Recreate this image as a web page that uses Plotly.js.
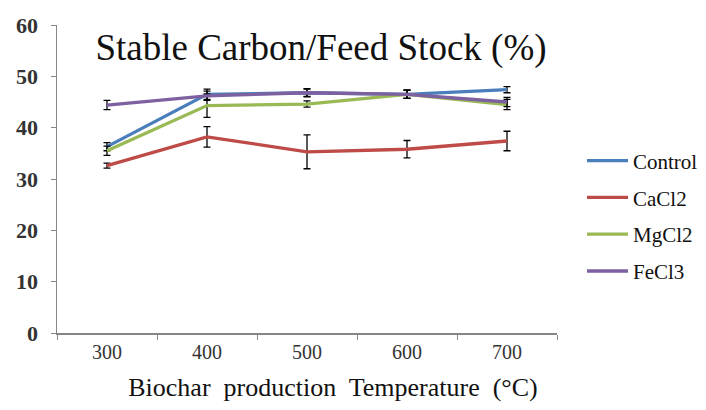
<!DOCTYPE html>
<html><head><meta charset="utf-8">
<script src="https://cdn.plot.ly/plotly-3.0.1.min.js"></script>
<style>html,body{margin:0;padding:0;background:#fff}#chart{width:706px;height:410px}</style>
</head><body><div id="chart"></div>
<script>
const temps = ['300', '400', '500', '600', '700'];
const seriesNames = ['Control', 'CaCl2', 'MgCl2', 'FeCl3'];
const control = [36.3, 46.5, 46.8, 46.5, 47.4];
const controlErr = [0.8, 1.0, 0.8, 0.8, 0.6];
const cacl2 = [32.6, 38.2, 35.3, 35.8, 37.4];
const cacl2Err = [0.5, 2.0, 3.3, 1.7, 1.9];
const mgcl2 = [35.5, 44.3, 44.6, 46.5, 44.5];
const mgcl2Err = [0.9, 2.3, 0.6, 0.8, 1.0];
const fecl3 = [44.4, 46.2, 46.8, 46.5, 45.0];
const fecl3Err = [0.9, 0.9, 0.7, 0.8, 0.9];
const colors = ['#4A7EBB', '#BE4B48', '#98B954', '#7D60A0'];
const values = [control, cacl2, mgcl2, fecl3];
const errs = [controlErr, cacl2Err, mgcl2Err, fecl3Err];

const serif = '"Liberation Serif", "Times New Roman", serif';
const traces = seriesNames.map((n, i) => ({
  type: 'scatter', mode: 'lines', name: n, x: temps, y: values[i],
  legendgroup: 'g' + i,
  line: {color: colors[i], width: 3.3},
  error_y: {type: 'data', array: errs[i], visible: true, color: '#000', thickness: 1.3, width: 3.5}
}));

const layout = {
  width: 706, height: 410,
  margin: {l: 57, r: 149, t: 25, b: 77, autoexpand: false},
  paper_bgcolor: '#fff', plot_bgcolor: '#fff',
  font: {family: serif, color: '#222'},
  title: {text: 'Stable Carbon/Feed Stock (%)', font: {family: serif, size: 37, color: '#111'},
    xref: 'paper', x: (321 - 57) / 500, xanchor: 'center', yref: 'container', y: 1 - 47 / 410, yanchor: 'middle'},
  xaxis: {type: 'category', range: [-0.5, 4.5], tickson: 'boundaries', ticks: 'outside', ticklen: 5,
    tickcolor: '#868686', showline: true, linecolor: '#868686', linewidth: 1.5, showgrid: false, zeroline: false,
    tickfont: {family: serif, size: 20, color: '#333'},
    title: {text: '&nbsp;&nbsp;&nbsp;&nbsp;&nbsp;&nbsp;&nbsp;&nbsp;Biochar  production  Temperature  (°C)',
      font: {family: serif, size: 26, color: '#111'}, standoff: 16}},
  yaxis: {range: [0, 60], dtick: 10, ticks: 'outside', ticklen: 5, tickcolor: '#868686', ticklabelstandoff: 8,
    showline: true, linecolor: '#868686', linewidth: 1.5, showgrid: false, zeroline: false,
    tickfont: {family: serif, size: 22, color: '#333', weight: 'bold'}},
  showlegend: true,
  legend: {x: 1.05, xanchor: 'left', y: 0.38, yanchor: 'middle', tracegroupgap: 6.5, itemwidth: 41,
    font: {family: serif, size: 21, color: '#111'}, bgcolor: 'rgba(0,0,0,0)'}
};
Plotly.newPlot('chart', traces, layout, {displayModeBar: false, staticPlot: true});
</script></body></html>
